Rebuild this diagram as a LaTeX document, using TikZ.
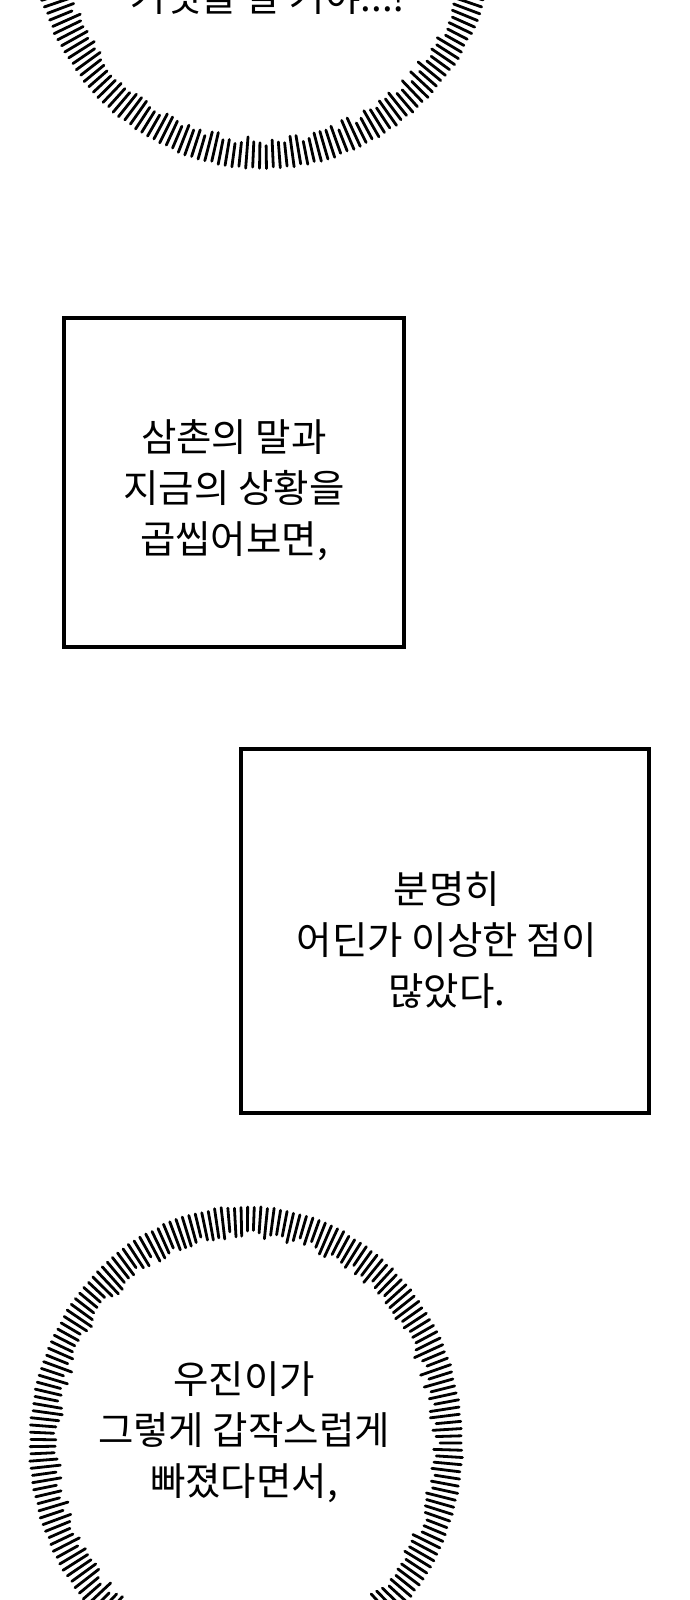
\documentclass[tikz,border=0pt]{standalone}
\usepackage{fontspec}
\newfontfamily\krfont{Noto Sans CJK KR}
\usetikzlibrary{calc}
\def\spikering[#1](#2,#3)(#4:#5:#6){\foreach \k in {1,...,#6}{\pgfmathsetmacro{\ang}{360/#6*\k}\pgfmathsetmacro{\len}{21+9*rnd}\pgfmathsetmacro{\tip}{2*rnd}\draw[#1] ({#2+(#4+\tip)*cos(\ang)},{#3+(#5+\tip)*sin(\ang)}) -- ({#2+(#4-\len)*cos(\ang)},{#3+(#5-\len)*sin(\ang)});}}

\begin{document}
\begin{tikzpicture}[x=1pt, y=-1pt,
	panel/.style={draw=black, line width=4pt},
	spike/.style={line width=2.8pt, line cap=round, color=black},
	talk/.style={font=\krfont\fontsize{38.5}{51}\selectfont, align=center, text=black}]
		%%%%% START %%%%%
		
		\useasboundingbox (0, 0) rectangle (690, 1600);
		\clip (0, 0) rectangle (690, 1600);
		\fill[white] (0, 0) rectangle (690, 1600);
		\pgfmathsetseed{17}
		
		% top bubble, cut by the page
		\spikering[spike](263, -70)(230:237:210)
		\node[talk, anchor=base] (lie) at (268, 12) {거짓을 알 거야...!};
		
		% first box
		\draw[panel] (64, 318) rectangle (404, 647);
		\node[talk] (uncle) at (234, 490) {삼촌의 말과\\지금의 상황을\\곱씹어보면,};
		
		% second box
		\draw[panel] (241, 749) rectangle (649, 1113);
		\node[talk] (strange) at (447, 940) {분명히\\어딘가 이상한 점이\\많았다.};
		
		% bottom bubble
		\spikering[spike](246, 1443)(215:235:205)
		\node[talk] (woojin) at (244, 1432) {우진이가\\그렇게 갑작스럽게\\빠졌다면서,};
		
		%%%%% END %%%%%
	\end{tikzpicture}
\end{document}
